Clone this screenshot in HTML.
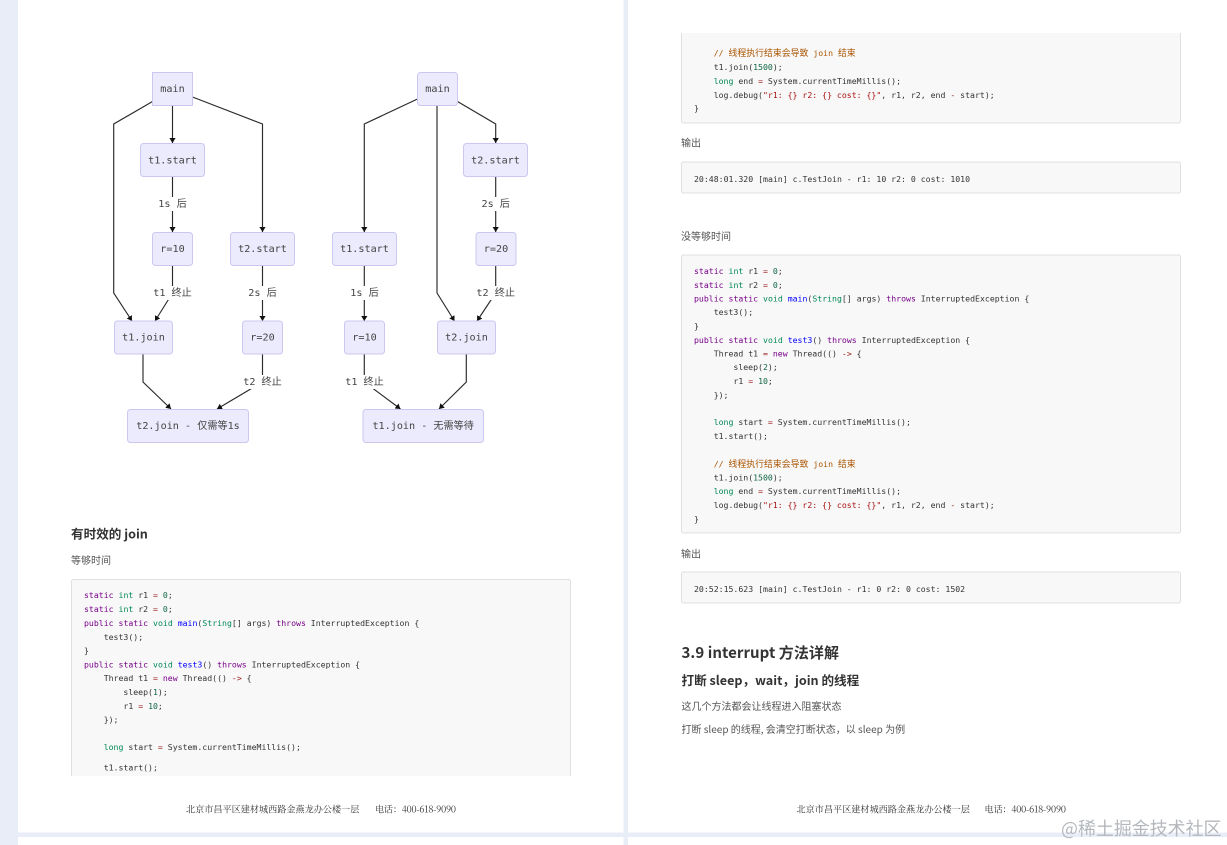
<!DOCTYPE html>
<html><head><meta charset="utf-8">
<style>
html,body{margin:0;padding:0;width:1227px;height:845px;overflow:hidden;background:#e9edf7}
svg{display:block}
text{white-space:pre}
.m{font-family:"DejaVu Sans Mono","Noto Sans CJK SC",monospace;font-size:10.15px;fill:#444;text-anchor:middle;dominant-baseline:central;transform:translateY(.7px)}
.c{font-family:"DejaVu Sans Mono","Noto Sans CJK SC",monospace;font-size:8.2px;fill:#333}
.z{font-size:8.9px}
.b{font-family:"Noto Sans CJK SC","Liberation Sans",sans-serif;font-size:10px;fill:#555}
.h{font-family:"Noto Sans CJK SC","Liberation Sans",sans-serif;font-weight:700;fill:#333}
.f{font-family:"Noto Serif CJK SC","Liberation Serif",serif;font-size:9.15px;fill:#333}
.k{fill:#770088}.t{fill:#008855}.n{fill:#116644}.d{fill:#0000ff}.s{fill:#aa1111}.g{fill:#aa5500}.o{fill:#981a1a}
.e{fill:none;stroke:#2a2a2a;stroke-width:1.15;marker-end:url(#a)}
.r{fill:#ebebfd;stroke:#cbc7f0;stroke-width:1}
.l{fill:#fff}
.bx{fill:#f8f8f8;stroke:#e0e0e0;stroke-width:1}
</style></head><body>
<svg width="1227" height="845" viewBox="0 0 1227 845" xmlns="http://www.w3.org/2000/svg">
<defs><marker id="a" markerUnits="userSpaceOnUse" markerWidth="7" markerHeight="7" refX="5" refY="3.5" orient="auto"><path d="M0 0.4L5 3.5L0 6.6z" fill="#111"/></marker>
<clipPath id="cl"><rect x="60" y="570" width="520" height="206"/></clipPath></defs>
<rect x="18" y="0" width="605.5" height="832.5" fill="#fff"/>
<rect x="628" y="0" width="599" height="832.5" fill="#fff"/>
<rect x="18" y="837" width="605.5" height="8" fill="#fff"/>
<rect x="628" y="837" width="599" height="8" fill="#fff"/>

<!-- left diagram edges -->
<path class="e" d="M152.5 101.5L113.7 124V293L132 321"/>
<path class="e" d="M172.5 105.5V143"/>
<path class="e" d="M192.5 97L262.5 124V232"/>
<path class="e" d="M172.5 177V232"/>
<path class="e" d="M172.5 266V293L155 321"/>
<path class="e" d="M262.5 266V321"/>
<path class="e" d="M143 354.5V382L171 409"/>
<path class="e" d="M262.5 354.5V382L217 409"/>
<!-- right diagram edges -->
<path class="e" d="M417.5 99L364.3 124V232"/>
<path class="e" d="M437 105.5V293L454.5 321"/>
<path class="e" d="M457.5 101.5L495.7 124V143"/>
<path class="e" d="M495.7 177V232"/>
<path class="e" d="M495.7 266V293L477 321"/>
<path class="e" d="M364.3 266V321"/>
<path class="e" d="M364.3 354.5V382L400.5 409"/>
<path class="e" d="M466.3 354.5V382L439 409"/>

<!-- left nodes -->
<rect class="r" x="152.5" y="72.5" width="40" height="33"/><text class="m" x="172.5" y="89">main</text>
<rect class="r" x="140.5" y="143.5" width="64" height="33" rx="3"/><text class="m" x="172.5" y="160.5">t1.start</text>
<rect class="r" x="152.5" y="232.5" width="40" height="33" rx="3"/><text class="m" x="172.5" y="249">r=10</text>
<rect class="r" x="230.5" y="232.5" width="64" height="33" rx="3"/><text class="m" x="262.5" y="249">t2.start</text>
<rect class="r" x="114.5" y="321" width="58" height="33" rx="3"/><text class="m" x="143.5" y="337.5">t1.join</text>
<rect class="r" x="242.5" y="321" width="40" height="33" rx="3"/><text class="m" x="262.5" y="337.5">r=20</text>
<rect class="r" x="127.5" y="409.5" width="121" height="33" rx="3"/><text class="m" x="188" y="426">t2.join - 仅需等1s</text>
<!-- left labels -->
<rect class="l" x="158" y="197" width="29" height="14"/><text class="m" x="172.5" y="204">1s 后</text>
<rect class="l" x="153" y="286" width="40" height="14"/><text class="m" x="172.5" y="293">t1 终止</text>
<rect class="l" x="248" y="286" width="29" height="14"/><text class="m" x="262.5" y="293">2s 后</text>
<rect class="l" x="243" y="375" width="40" height="14"/><text class="m" x="262.5" y="382">t2 终止</text>

<!-- right nodes -->
<rect class="r" x="417.5" y="72.5" width="40" height="33" rx="3"/><text class="m" x="437.5" y="89">main</text>
<rect class="r" x="463.5" y="143.5" width="64" height="33" rx="3"/><text class="m" x="495.5" y="160.5">t2.start</text>
<rect class="r" x="332.5" y="232.5" width="64" height="33" rx="3"/><text class="m" x="364.5" y="249">t1.start</text>
<rect class="r" x="476" y="232.5" width="40" height="33" rx="3"/><text class="m" x="496" y="249">r=20</text>
<rect class="r" x="344.5" y="321" width="40" height="33" rx="3"/><text class="m" x="364.5" y="337.5">r=10</text>
<rect class="r" x="437.5" y="321" width="58" height="33" rx="3"/><text class="m" x="466.5" y="337.5">t2.join</text>
<rect class="r" x="363" y="409.5" width="120.5" height="33" rx="3"/><text class="m" x="423.2" y="426">t1.join - 无需等待</text>
<!-- right labels -->
<rect class="l" x="481" y="197" width="29" height="14"/><text class="m" x="495.7" y="204">2s 后</text>
<rect class="l" x="350" y="286" width="29" height="14"/><text class="m" x="364.5" y="293">1s 后</text>
<rect class="l" x="476" y="286" width="40" height="14"/><text class="m" x="495.7" y="293">t2 终止</text>
<rect class="l" x="344" y="375" width="40" height="14"/><text class="m" x="364.5" y="382">t1 终止</text>

<!-- left text -->
<text class="h" font-size="12.6" x="71" y="538.5">有时效的 join</text>
<text class="b" x="71" y="564">等够时间</text>
<g clip-path="url(#cl)">
<rect class="bx" x="71.5" y="579.5" width="499" height="240" rx="2"/>
<text class="c" x="84" y="598"><tspan class="k">static</tspan> <tspan class="t">int</tspan> r1 <tspan class="o">=</tspan> <tspan class="n">0</tspan>;</text>
<text class="c" x="84" y="612"><tspan class="k">static</tspan> <tspan class="t">int</tspan> r2 <tspan class="o">=</tspan> <tspan class="n">0</tspan>;</text>
<text class="c" x="84" y="626"><tspan class="k">public</tspan> <tspan class="k">static</tspan> <tspan class="t">void</tspan> <tspan class="d">main</tspan>(<tspan class="t">String</tspan>[] args) <tspan class="k">throws</tspan> InterruptedException {</text>
<text class="c" x="103.7" y="640">test3();</text>
<text class="c" x="84" y="653.5">}</text>
<text class="c" x="84" y="667.5"><tspan class="k">public</tspan> <tspan class="k">static</tspan> <tspan class="t">void</tspan> <tspan class="d">test3</tspan>() <tspan class="k">throws</tspan> InterruptedException {</text>
<text class="c" x="103.7" y="681">Thread t1 <tspan class="o">=</tspan> <tspan class="k">new</tspan> Thread(() <tspan class="o">-&gt;</tspan> {</text>
<text class="c" x="123.4" y="695">sleep(<tspan class="n">1</tspan>);</text>
<text class="c" x="123.4" y="709">r1 <tspan class="o">=</tspan> <tspan class="n">10</tspan>;</text>
<text class="c" x="103.7" y="722.5">});</text>
<text class="c" x="103.7" y="750"><tspan class="t">long</tspan> start <tspan class="o">=</tspan> System.currentTimeMillis();</text>
<text class="c" x="103.7" y="770.5">t1.start();</text>
</g>
<text class="f" x="186" y="812.5">北京市昌平区建材城西路金燕龙办公楼一层</text>
<text class="f" x="375" y="812.5" textLength="81">电话：400-618-9090</text>

<!-- right top block -->
<path d="M681.5 33V121a2 2 0 0 0 2 2H1178.5a2 2 0 0 0 2-2V33z" fill="#f8f8f8"/>
<path d="M681.5 33V121a2 2 0 0 0 2 2H1178.5a2 2 0 0 0 2-2V33" fill="none" stroke="#e0e0e0"/>
<text class="c" x="713.7" y="56"><tspan class="g">// <tspan class="z">线程执行结束会导致</tspan> join <tspan class="z">结束</tspan></tspan></text>
<text class="c" x="713.7" y="70">t1.join(<tspan class="n">1500</tspan>);</text>
<text class="c" x="713.7" y="84"><tspan class="t">long</tspan> end <tspan class="o">=</tspan> System.currentTimeMillis();</text>
<text class="c" x="713.7" y="98">log.debug(<tspan class="s">"r1: {} r2: {} cost: {}"</tspan>, r1, r2, end <tspan class="o">-</tspan> start);</text>
<text class="c" x="694" y="111">}</text>
<text class="b" x="681" y="146.5">输出</text>
<rect class="bx" x="681.5" y="162" width="499" height="31" rx="2"/>
<text class="c" x="694" y="182">20:48:01.320 [main] c.TestJoin - r1: 10 r2: 0 cost: 1010</text>
<text class="b" x="681" y="240">没等够时间</text>

<!-- right main block -->
<rect class="bx" x="681.5" y="255" width="499" height="278" rx="2"/>
<text class="c" x="694" y="274"><tspan class="k">static</tspan> <tspan class="t">int</tspan> r1 <tspan class="o">=</tspan> <tspan class="n">0</tspan>;</text>
<text class="c" x="694" y="288"><tspan class="k">static</tspan> <tspan class="t">int</tspan> r2 <tspan class="o">=</tspan> <tspan class="n">0</tspan>;</text>
<text class="c" x="694" y="301.5"><tspan class="k">public</tspan> <tspan class="k">static</tspan> <tspan class="t">void</tspan> <tspan class="d">main</tspan>(<tspan class="t">String</tspan>[] args) <tspan class="k">throws</tspan> InterruptedException {</text>
<text class="c" x="713.7" y="315">test3();</text>
<text class="c" x="694" y="329">}</text>
<text class="c" x="694" y="343"><tspan class="k">public</tspan> <tspan class="k">static</tspan> <tspan class="t">void</tspan> <tspan class="d">test3</tspan>() <tspan class="k">throws</tspan> InterruptedException {</text>
<text class="c" x="713.7" y="356.5">Thread t1 <tspan class="o">=</tspan> <tspan class="k">new</tspan> Thread(() <tspan class="o">-&gt;</tspan> {</text>
<text class="c" x="733.4" y="370">sleep(<tspan class="n">2</tspan>);</text>
<text class="c" x="733.4" y="384">r1 <tspan class="o">=</tspan> <tspan class="n">10</tspan>;</text>
<text class="c" x="713.7" y="398">});</text>
<text class="c" x="713.7" y="425"><tspan class="t">long</tspan> start <tspan class="o">=</tspan> System.currentTimeMillis();</text>
<text class="c" x="713.7" y="439">t1.start();</text>
<text class="c" x="713.7" y="467"><tspan class="g">// <tspan class="z">线程执行结束会导致</tspan> join <tspan class="z">结束</tspan></tspan></text>
<text class="c" x="713.7" y="480.5">t1.join(<tspan class="n">1500</tspan>);</text>
<text class="c" x="713.7" y="494"><tspan class="t">long</tspan> end <tspan class="o">=</tspan> System.currentTimeMillis();</text>
<text class="c" x="713.7" y="508">log.debug(<tspan class="s">"r1: {} r2: {} cost: {}"</tspan>, r1, r2, end <tspan class="o">-</tspan> start);</text>
<text class="c" x="694" y="522">}</text>
<text class="b" x="681" y="557.5">输出</text>
<rect class="bx" x="681.5" y="572" width="499" height="31" rx="2"/>
<text class="c" x="694" y="592">20:52:15.623 [main] c.TestJoin - r1: 0 r2: 0 cost: 1502</text>

<text class="h" font-size="15" x="681.5" y="658" textLength="157.5">3.9 interrupt 方法详解</text>
<text class="h" font-size="12.6" x="681.5" y="685">打断 sleep，wait，join 的线程</text>
<text class="b" x="681.5" y="710">这几个方法都会让线程进入阻塞状态</text>
<text class="b" x="681.5" y="733">打断 sleep 的线程, 会清空打断状态，以 sleep 为例</text>
<text class="f" x="796.5" y="812.5">北京市昌平区建材城西路金燕龙办公楼一层</text>
<text class="f" x="984.5" y="812.5" textLength="81.5">电话：400-618-9090</text>

<text x="1061" y="835" font-family="'Noto Sans CJK SC','Liberation Sans',sans-serif" font-size="17.95" fill="#b4b8bc">@稀土掘金技术社区</text>
</svg>
</body></html>
